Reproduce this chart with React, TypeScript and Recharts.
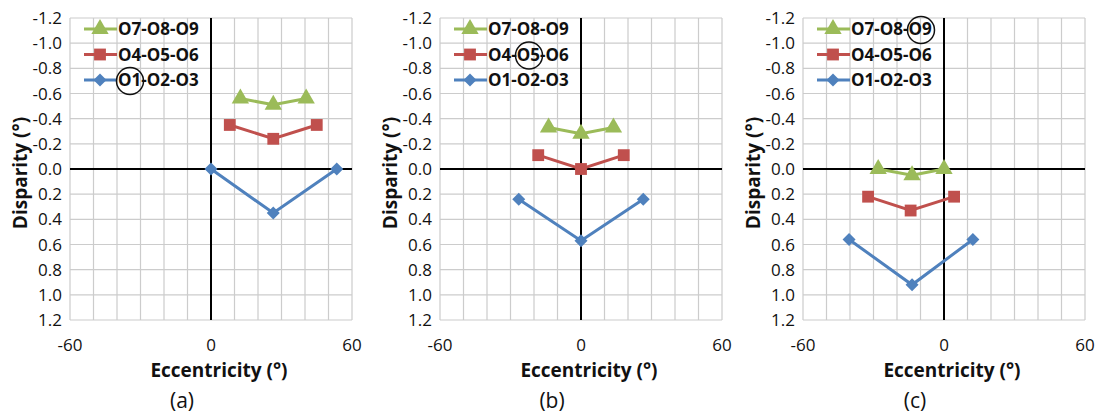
import React from "react";
import {
  ScatterChart,
  Scatter,
  XAxis,
  YAxis,
  CartesianGrid,
  ReferenceLine,
  Symbols,
} from "recharts";

// eccentricity (deg) and disparity (deg)
const eccA1 = [0, 26.5, 53.5];
const dispA1 = [0, 0.35, 0];
const eccA2 = [8, 26.5, 45];
const dispA2 = [-0.35, -0.24, -0.35];
const eccA3 = [12.5, 26.5, 40.5];
const dispA3 = [-0.56, -0.51, -0.56];

const eccB1 = [-26.5, 0, 26.5];
const dispB1 = [0.24, 0.57, 0.24];
const eccB2 = [-18.2, 0, 18.2];
const dispB2 = [-0.11, 0, -0.11];
const eccB3 = [-13.8, 0, 13.8];
const dispB3 = [-0.33, -0.28, -0.33];

const eccC1 = [-40.4, -13.6, 12.3];
const dispC1 = [0.56, 0.92, 0.56];
const eccC2 = [-32.3, -14.2, 4.3];
const dispC2 = [0.22, 0.33, 0.22];
const eccC3 = [-28, -13.6, 0];
const dispC3 = [0, 0.05, 0];

const seriesNames = ["O1-O2-O3", "O4-O5-O6", "O7-O8-O9"];
const captions = ["(a)", "(b)", "(c)"];

const xGridTicks = [-60, -50, -40, -30, -20, -10, 0, 10, 20, 30, 40, 50, 60];
const xLabelTicks = [-60, 0, 60];
const yTicks = [-1.2, -1.0, -0.8, -0.6, -0.4, -0.2, 0, 0.2, 0.4, 0.6, 0.8, 1.0, 1.2];

const COLORS = ["#4f81bd", "#c0504d", "#9bbb59"];
const SHAPES = ["diamond", "square", "triangle"] as const;
const FONT = "'Open Sans', 'Noto Sans', sans-serif";

const toPoints = (xs: number[], ys: number[]) => xs.map((x, i) => ({ x, y: ys[i] }));

// one marker drawer for both the plot and the legend
function Marker({ cx, cy, s }: { cx: number; cy: number; s: number }) {
  if (s === 0) {
    const h = 6.5;
    return (
      <polygon
        points={`${cx},${cy - h} ${cx + h},${cy} ${cx},${cy + h} ${cx - h},${cy}`}
        fill={COLORS[0]}
      />
    );
  }
  return <Symbols cx={cx} cy={cy} type={SHAPES[s]} size={s === 1 ? 140 : 130} fill={COLORS[s]} />;
}

// where the hand-drawn circle sits in each legend: [row, x offset from text start]
const marks: [number, number][] = [
  [0, 12],
  [1, 41],
  [2, 70],
];

function Legendish({ mark }: { mark: [number, number] }) {
  // rows drawn top to bottom: O7.., O4.., O1..
  const rows = [2, 1, 0];
  return (
    <svg width={220} height={84} style={{ position: "absolute", left: 80, top: 14 }}>
      {rows.map((s, r) => {
        const cy = 15 + r * 25.5;
        return (
          <g key={s}>
            <line x1={4} x2={37} y1={cy} y2={cy} stroke={COLORS[s]} strokeWidth={3} />
            <Marker cx={20} cy={cy} s={s} />
            <text
              x={38}
              y={cy}
              dy="0.36em"
              fontFamily={FONT}
              fontWeight={700}
              fontSize={17}
              fill="#111"
            >
              {seriesNames[s]}
            </text>
            {mark[0] === s && (
              <circle cx={38 + mark[1]} cy={cy + 1} r={13.5} fill="none" stroke="#111" strokeWidth={1.5} />
            )}
          </g>
        );
      })}
    </svg>
  );
}

function Panel({
  left,
  caption,
  data,
  mark,
}: {
  left: number;
  caption: string;
  data: { x: number; y: number }[][];
  mark: [number, number];
}) {
  return (
    <div style={{ position: "absolute", left, top: 0, width: 370, height: 414 }}>
      <ScatterChart width={370} height={414} margin={{ top: 18, right: 18, left: 0, bottom: 64 }}>
        <CartesianGrid stroke="#cccccc" strokeWidth={1.2} />
        <XAxis
          type="number"
          dataKey="x"
          domain={[-60, 60]}
          ticks={xGridTicks}
          interval={0}
          tickFormatter={(v) => (xLabelTicks.includes(v) ? String(v) : "")}
          axisLine={false}
          tickLine={false}
          tickMargin={13}
          tick={{ fill: "#111", fontSize: 17, fontFamily: FONT }}
          label={(props: any) => {
            const vb = props.viewBox;
            return (
              <text
                x={vb.x + vb.width / 2 + 8}
                y={vb.y + 57}
                textAnchor="middle"
                fontFamily={FONT}
                fontWeight={700}
                fontSize={19}
                fill="#111"
              >
                Eccentricity (°)
              </text>
            );
          }}
        />
        <YAxis
          type="number"
          dataKey="y"
          domain={[-1.2, 1.2]}
          ticks={yTicks}
          interval={0}
          reversed
          width={70}
          tickFormatter={(v) => Number(v).toFixed(1)}
          axisLine={false}
          tickLine={false}
          tickMargin={2}
          tick={{ fill: "#111", fontSize: 17, fontFamily: FONT }}
          label={(props: any) => {
            const vb = props.viewBox;
            const cx = 20;
            const cy = vb.y + vb.height / 2 + 4;
            return (
              <text
                x={cx}
                y={cy}
                transform={`rotate(-90 ${cx} ${cy})`}
                textAnchor="middle"
                dy="0.36em"
                fontFamily={FONT}
                fontWeight={700}
                fontSize={19}
                fill="#111"
              >
                Disparity (°)
              </text>
            );
          }}
        />
        <ReferenceLine x={0} stroke="#000" strokeWidth={2} />
        <ReferenceLine y={0} stroke="#000" strokeWidth={2} />
        {data.map((pts, i) => (
          <Scatter
            key={seriesNames[i]}
            name={seriesNames[i]}
            data={pts}
            fill={COLORS[i]}
            line={{ stroke: COLORS[i], strokeWidth: 3 }}
            lineType="joint"
            isAnimationActive={false}
            shape={(p: any) => <Marker cx={p.cx} cy={p.cy} s={i} />}
          />
        ))}
      </ScatterChart>
      <Legendish mark={mark} />
      <div
        style={{
          position: "absolute",
          left: 182,
          top: 386,
          transform: "translateX(-50%)",
          fontFamily: FONT,
          fontSize: 21,
          color: "#111",
          lineHeight: "28px",
        }}
      >
        {caption}
      </div>
    </div>
  );
}

export default function App() {
  const panelA = [toPoints(eccA1, dispA1), toPoints(eccA2, dispA2), toPoints(eccA3, dispA3)];
  const panelB = [toPoints(eccB1, dispB1), toPoints(eccB2, dispB2), toPoints(eccB3, dispB3)];
  const panelC = [toPoints(eccC1, dispC1), toPoints(eccC2, dispC2), toPoints(eccC3, dispC3)];
  return (
    <div
      style={{
        position: "absolute",
        left: 0,
        top: 0,
        width: 1096,
        height: 414,
        overflow: "hidden",
        background: "#fff",
      }}
    >
      <Panel left={0} caption={captions[0]} data={panelA} mark={marks[0]} />
      <Panel left={370} caption={captions[1]} data={panelB} mark={marks[1]} />
      <Panel left={733} caption={captions[2]} data={panelC} mark={marks[2]} />
    </div>
  );
}
